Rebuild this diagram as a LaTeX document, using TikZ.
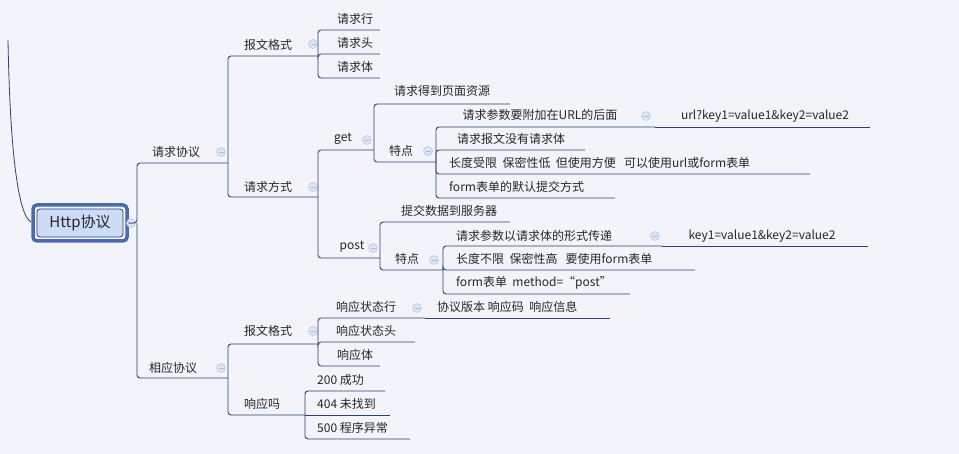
\documentclass[tikz,border=0pt]{standalone}
\usepackage{fontspec}
\setmainfont{Noto Sans CJK SC}
\begin{document}
\begin{tikzpicture}[x=1pt,y=-1pt,
  br/.style={draw=linec,line width=0.9pt,rounded corners=3pt},
  txt/.style={inner sep=0pt,font=\fontsize{12}{14}\selectfont,text=black!85},
  col/.style={circle,draw=colb,fill=colf,minimum size=9pt,inner sep=0pt,path picture={\draw[colb,line width=0.8pt] ([xshift=-2.5pt]path picture bounding box.center)--([xshift=2.5pt]path picture bounding box.center);}}]
\definecolor{bgc}{HTML}{F3F4F9}
\definecolor{linec}{HTML}{2A4470}
\definecolor{colb}{HTML}{A9BCDB}
\definecolor{colf}{HTML}{DCE5F3}
\definecolor{rootb}{HTML}{4A69B5}
\definecolor{rootf}{HTML}{CCDBF6}
\fill[bgc] (0,0) rectangle (959,454);
\useasboundingbox (0,0) rectangle (959,454);
% root
\draw[linec,line width=0.8pt] (8,40) .. controls (10,150) and (18,215) .. (31,222);
\node[draw=rootb,line width=3.5pt,rounded corners=4pt,minimum width=94pt,minimum height=36pt] (rootbox) at (80,223) {};
\node[draw=linec,fill=rootf,line width=0.8pt,rounded corners=3pt,minimum width=86pt,minimum height=28pt,font=\fontsize{15}{17}\selectfont,text=black!85] (root) at (80,223) {Http协议};
\node[col] (c0) at (131,223) {};
% level 1
\draw[br] (128,223) -- (137,223) |- (228,163);
\draw[br] (137,223) |- (228,378);
\node[txt] (qq) at (176,152) {请求协议}; \node[col] (c1) at (221,152) {};
\node[txt] (xy) at (173,368) {相应协议}; \node[col] at (221,368) {};
% 请求协议
\draw[br] (228,163) |- (318,56);
\draw[br] (228,163) |- (318,197);
\node[txt] (bw) at (268,45) {报文格式}; \node[col] at (313,44) {};
\node[txt] (fs) at (268,187) {请求方式}; \node[col] at (313,187) {};
\draw[br] (318,56) |- (380,30);
\draw[br] (318,56) |- (380,54);
\draw[br] (318,56) |- (380,78);
\node[txt] at (355,19) {请求行};
\node[txt] at (355,43) {请求头};
\node[txt] at (355,67) {请求体};
% 请求方式
\draw[br] (318,197) |- (374,150);
\draw[br] (318,197) |- (380,258);
\node[txt] (get) at (343,139) {get}; \node[col] at (367,140) {};
\node[txt] (post) at (352,247) {post}; \node[col] at (373,248) {};
% get
\draw[br] (374,150) |- (510,104);
\draw[br] (374,150) |- (436,162);
\node[txt] at (442,91) {请求得到页面资源};
\node[txt] at (401,151) {特点}; \node[col] at (428,151) {};
\draw[br] (436,162) |- (655,127);
\draw[br] (436,162) |- (585,150);
\draw[br] (436,162) |- (810,174);
\draw[br] (436,162) |- (615,198);
\node[txt] at (540,115) {请求参数要附加在URL的后面}; \node[col] at (646,116) {};
\draw[br] (655,127) -- (870,127);
\node[txt] at (765,116) {url?key1=value1\&key2=value2};
\node[txt] at (511,139) {请求报文没有请求体};
\node[txt,anchor=west] at (449,163) {长度受限\ \ 保密性低\ \ 但使用方便\ \ \ 可以使用url或form表单};
\node[txt,anchor=west] at (449,187) {form表单的默认提交方式};
% post
\draw[br] (380,258) |- (510,222);
\draw[br] (380,258) |- (443,270);
\node[txt] at (449,211) {提交数据到服务器};
\node[txt] at (407,259) {特点}; \node[col] at (434,260) {};
\draw[br] (443,270) |- (662,246);
\draw[br] (443,270) |- (695,270);
\draw[br] (443,270) |- (630,294);
\node[txt,anchor=west] at (456,236) {请求参数以请求体的形式传递}; \node[col] at (655,236) {};
\draw[br] (662,246) -- (868,246);
\node[txt] at (762,236) {key1=value1\&key2=value2};
\node[txt,anchor=west] at (456,259) {长度不限\ \ 保密性高\ \ \ 要使用form表单};
\node[txt,anchor=west] at (456,283) {form表单\ \ method=“post”};
% 相应协议
\draw[br] (228,378) |- (318,344);
\draw[br] (228,378) |- (305,415);
\node[txt] at (268,331) {报文格式}; \node[col] at (313,331) {};
\node[txt] at (262,404) {响应吗};
\draw[br] (318,344) |- (425,318);
\draw[br] (318,344) |- (415,342);
\draw[br] (318,344) |- (380,366);
\node[txt] at (366,307) {响应状态行}; \node[col] at (417,308) {};
\draw[br] (425,318) -- (610,318);
\node[txt,anchor=west] at (437,307) {协议版本\ 响应码\ \ 响应信息};
\node[txt] at (366,331) {响应状态头};
\node[txt] at (355,355) {响应体};
\draw[br] (305,415) |- (385,391);
\draw[br] (305,415) -- (390,415);
\draw[br] (305,415) |- (410,439);
\node[txt,anchor=west] at (317,380) {200 成功};
\node[txt,anchor=west] at (317,404) {404 未找到};
\node[txt,anchor=west] at (317,428) {500 程序异常};
\end{tikzpicture}
\end{document}
